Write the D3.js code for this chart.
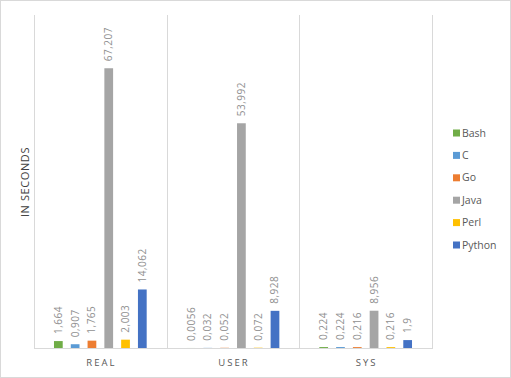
<!DOCTYPE html>
<html>
<head>
<meta charset="utf-8">
<script src="https://cdn.jsdelivr.net/npm/d3@7"></script>
<style>
  body { margin: 0; background: #fff; }
  text { font-family: "Open Sans", "Liberation Sans", sans-serif; }
</style>
</head>
<body>
<div id="chart"></div>
<script>
var categories = ["REAL", "USER", "SYS"];
var series = ["Bash", "C", "Go", "Java", "Perl", "Python"];
var colors = ["#70ad47", "#5b9bd5", "#ed7d31", "#a5a5a5", "#ffc000", "#4472c4"];
var bash = [1.664, 0.0056, 0.224];
var cLang = [0.907, 0.032, 0.224];
var go = [1.765, 0.052, 0.216];
var java = [67.207, 53.992, 8.956];
var perl = [2.003, 0.072, 0.216];
var python = [14.062, 8.928, 1.9];
var yTitle = "IN SECONDS";

var values = [bash, cLang, go, java, perl, python];

var W = 511, H = 378;
var plot = {left: 34, right: 432, top: 15, bottom: 348};

var svg = d3.select("#chart").append("svg")
    .attr("width", W)
    .attr("height", H);

// chart frame
svg.append("rect")
    .attr("x", 0.5).attr("y", 0.5)
    .attr("width", W - 1).attr("height", H - 1)
    .attr("fill", "#fff")
    .attr("stroke", "#d9d9d9");

var x0 = d3.scaleBand().domain(categories).range([plot.left, plot.right]);
var x1 = d3.scaleBand().domain(series)
    .range([0, x0.bandwidth()])
    .paddingInner(0.48)
    .paddingOuter(1.19);
var y = d3.scaleLinear().domain([0, 80]).range([plot.bottom, plot.top]);

// vertical separators
var bounds = categories.map(function (c) { return x0(c); }).concat([plot.right]);
svg.selectAll("line.sep")
    .data(bounds)
    .enter().append("line")
    .attr("class", "sep")
    .attr("x1", function (d) { return Math.round(d) + 0.5; })
    .attr("x2", function (d) { return Math.round(d) + 0.5; })
    .attr("y1", plot.top)
    .attr("y2", plot.bottom)
    .attr("stroke", "#d9d9d9");

// baseline
svg.append("line")
    .attr("x1", plot.left).attr("x2", plot.right + 1)
    .attr("y1", plot.bottom + 0.5).attr("y2", plot.bottom + 0.5)
    .attr("stroke", "#d9d9d9");

var rows = [];
categories.forEach(function (c, ci) {
    series.forEach(function (s, si) {
        rows.push({cat: c, name: s, value: values[si][ci], color: colors[si]});
    });
});

svg.selectAll("rect.bar")
    .data(rows)
    .enter().append("rect")
    .attr("class", "bar")
    .attr("x", function (d) { return x0(d.cat) + x1(d.name); })
    .attr("y", function (d) { return y(d.value); })
    .attr("width", x1.bandwidth())
    .attr("height", function (d) { return plot.bottom - y(d.value); })
    .attr("fill", function (d) { return d.color; });

svg.selectAll("text.lbl")
    .data(rows)
    .enter().append("text")
    .attr("class", "lbl")
    .attr("transform", function (d) {
        var cx = x0(d.cat) + x1(d.name) + x1.bandwidth() / 2;
        return "translate(" + cx + "," + (y(d.value) - 7) + ") rotate(-90)";
    })
    .attr("dy", "0.35em")
    .attr("font-size", "10px")
    .attr("letter-spacing", "0.5px")
    .attr("fill", "#909090")
    .text(function (d) { return String(d.value).replace(".", ","); });

// category labels
svg.selectAll("text.cat")
    .data(categories)
    .enter().append("text")
    .attr("class", "cat")
    .attr("x", function (d) { return x0(d) + x0.bandwidth() / 2 + 1; })
    .attr("y", 366)
    .attr("text-anchor", "middle")
    .attr("font-size", "9.5px")
    .attr("letter-spacing", "2px")
    .attr("fill", "#595959")
    .text(function (d) { return d; });

// y title
svg.append("text")
    .attr("transform", "translate(25,182) rotate(-90)")
    .attr("text-anchor", "middle")
    .attr("dy", "0.35em")
    .attr("font-size", "11px")
    .attr("letter-spacing", "0.6px")
    .attr("fill", "#404040")
    .text(yTitle);

// legend
var legend = svg.selectAll("g.leg")
    .data(series)
    .enter().append("g")
    .attr("class", "leg")
    .attr("transform", function (d, i) { return "translate(453," + (133 + i * 22.4) + ")"; });
legend.append("rect")
    .attr("x", 0).attr("y", -3.5)
    .attr("width", 7).attr("height", 7)
    .attr("fill", function (d, i) { return colors[i]; });
legend.append("text")
    .attr("x", 9)
    .attr("dy", "0.35em")
    .attr("font-size", "10.5px")
    .attr("fill", "#595959")
    .text(function (d) { return d; });
</script>
</body>
</html>
